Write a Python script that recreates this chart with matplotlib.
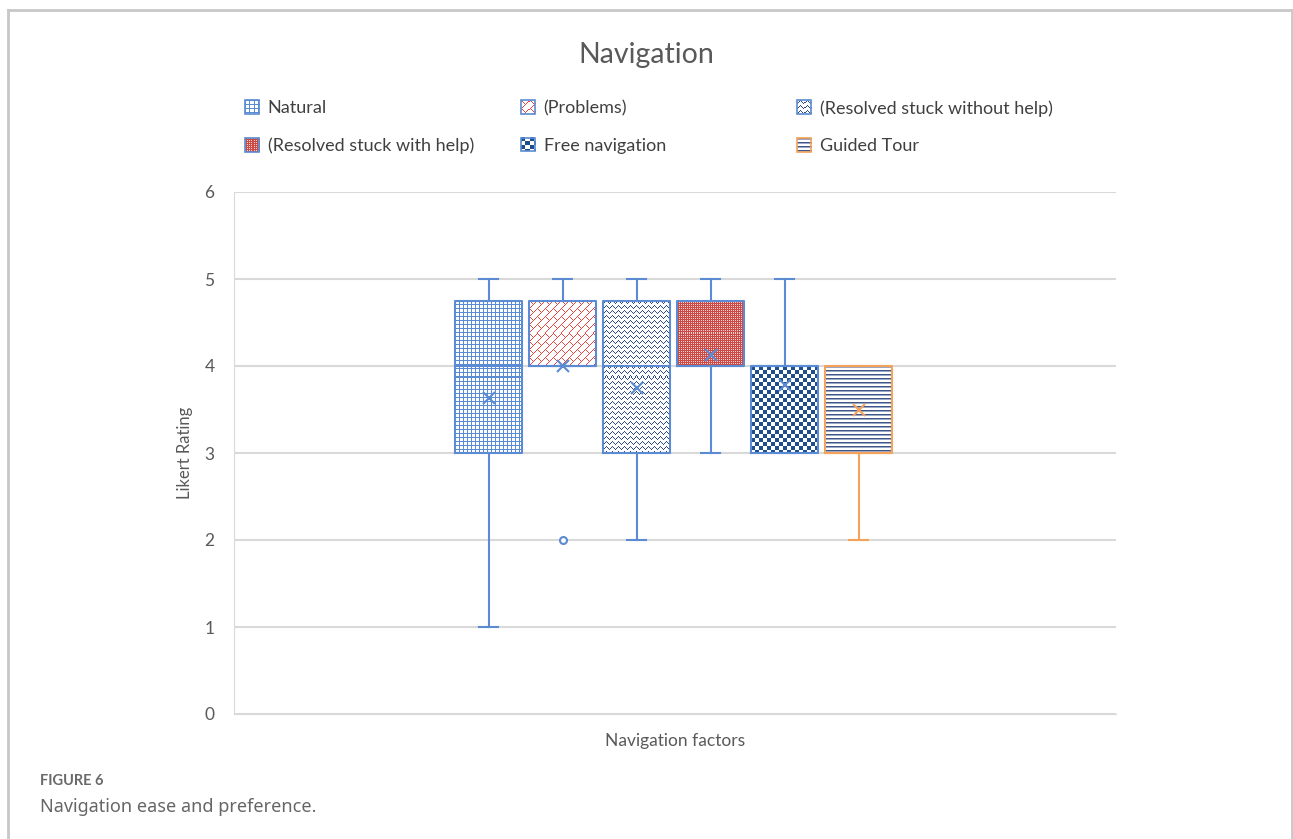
import numpy as np
import matplotlib
matplotlib.use('Agg')
from matplotlib import pyplot as plt
from matplotlib.lines import Line2D
from matplotlib.patches import Rectangle
from matplotlib.legend_handler import HandlerBase
from matplotlib.image import BboxImage
from matplotlib.transforms import Bbox, TransformedBbox

plt.rcParams['font.family'] = ['Lato', 'DejaVu Sans']

# data (Likert ratings)
categories = ["Natural", "(Problems)", "(Resolved stuck without help)",
              "(Resolved stuck with help)", "Free navigation", "Guided Tour"]
q1 = [3, 4, 3, 4, 3, 3]
medians = [4, 4, 4, 4, 4, 3]
q3 = [4.75, 4.75, 4.75, 4.75, 4, 4]
whislo = [1, 4, 2, 3, 3, 2]
whishi = [5, 5, 5, 5, 5, 4]
means = [3.63, 4.0, 3.75, 4.13, 3.78, 3.5]
fliers = [[], [2], [], [], [], []]

BLUE = '#5B8BD2'
ORANGE = '#F5A25A'
RED = '#E8453C'
NAVY = '#1F4E8C'
GRAY = '#595959'

kinds = ['grid', 'brick', 'zigzag', 'fine_check', 'check', 'hstripe']
edges = [BLUE, BLUE, BLUE, BLUE, BLUE, ORANGE]


def hex2rgb(c):
    c = c.lstrip('#')
    return np.array([int(c[i:i + 2], 16) / 255 for i in (0, 2, 4)])


def make_texture(kind, w, h):
    # pixel pattern that mimics the Excel fill patterns
    yy, xx = np.mgrid[0:h, 0:w]
    img = np.ones((h, w, 3))
    if kind == 'grid':
        img[(xx % 4 == 0) | (yy % 4 == 0)] = hex2rgb(BLUE)
    elif kind == 'brick':
        band = (xx + yy) // 8
        mask = ((xx + yy) % 8 == 0) | ((xx - yy - 8 * (band % 2)) % 16 == 0)
        img[mask] = hex2rgb(RED)
    elif kind == 'zigzag':
        tri = np.abs((xx % 6) - 3)
        img[(yy - tri) % 5 == 0] = hex2rgb('#2E4A86')
    elif kind == 'fine_check':
        img[:] = hex2rgb('#CC4A45')
        img[(xx % 2 == 0) & (yy % 2 == 0)] = hex2rgb('#F3D0CE')
    elif kind == 'check':
        img[(xx // 4 + yy // 4) % 2 == 0] = hex2rgb(NAVY)
    elif kind == 'hstripe':
        img[yy % 4 == 0] = hex2rgb('#3F5688')
        img[yy % 4 == 1] = hex2rgb('#9BA8C6')
    return img


class Swatch:
    def __init__(self, kind, edge):
        self.kind = kind
        self.edge = edge


class HandlerSwatch(HandlerBase):
    def create_artists(self, legend, orig_handle, xdescent, ydescent,
                       width, height, fontsize, trans):
        box = Bbox.from_bounds(-xdescent, -ydescent, width, height)
        img = BboxImage(TransformedBbox(box, trans), interpolation='nearest')
        img.set_data(make_texture(orig_handle.kind, 14, 14))
        rect = Rectangle((-xdescent, -ydescent), width, height, fill=False,
                         edgecolor=orig_handle.edge, lw=1.2, transform=trans)
        return [img, rect]


fig = plt.figure(figsize=(12.93, 8.39), dpi=100)
ax = fig.add_axes([234 / 1293, 125 / 839, 882 / 1293, 522 / 839])
ax.set_xlim(-3.44, 8.48)
ax.set_ylim(0, 6)

positions = np.arange(len(categories))
width = 0.9

for i in range(len(categories)):
    x0, x1 = positions[i] - width / 2, positions[i] + width / 2
    (px0, py0), (px1, py1) = ax.transData.transform([(x0, q1[i]), (x1, q3[i])])
    w = max(int(round(px1 - px0)), 1)
    h = max(int(round(py1 - py0)), 1)
    ax.imshow(make_texture(kinds[i], w, h), extent=(x0, x1, q1[i], q3[i]),
              interpolation='nearest', aspect='auto', zorder=2)
    c = edges[i]
    stats = [dict(q1=q1[i], med=medians[i], q3=q3[i], whislo=whislo[i],
                  whishi=whishi[i], mean=means[i], fliers=fliers[i])]
    ax.bxp(stats, positions=[positions[i]], widths=width, capwidths=0.26,
           showmeans=True, manage_ticks=False, zorder=3,
           boxprops=dict(color=c, lw=1.5),
           whiskerprops=dict(color=c, lw=1.5),
           capprops=dict(color=c, lw=1.5),
           medianprops=dict(color=c, lw=1.5),
           meanprops=dict(marker='x', markeredgecolor=c, markersize=9, mew=1.5),
           flierprops=dict(marker='o', markerfacecolor='white', markeredgecolor=c,
                           markersize=5, mew=1.5))

ax.set_xlim(-3.44, 8.48)
ax.set_ylim(0, 6)
ax.set_yticks(range(0, 7))
ax.set_xticks([])
ax.yaxis.grid(True, color='#D9D9D9', lw=1.5)
ax.set_axisbelow(True)
for s in ['top', 'right']:
    ax.spines[s].set_visible(False)
ax.spines['left'].set_color('#D9D9D9')
ax.spines['bottom'].set_color('#D9D9D9')
ax.tick_params(axis='y', length=0, pad=14, labelsize=12.5, labelcolor=GRAY)

ax.set_ylabel('Likert Rating', fontsize=12, color=GRAY)
ax.yaxis.set_label_coords(-0.047, 0.5)
ax.set_xlabel('Navigation factors', fontsize=12.5, color=GRAY)
ax.xaxis.set_label_coords(0.5, -0.036)

fig.text(646 / 1293, 1 - 55 / 839, 'Navigation', fontsize=20.5, color=GRAY,
         ha='center', va='center')

# legend in three columns, like the Excel layout
swatches = [Swatch(k, e) for k, e in zip(kinds, edges)]
for col, xpx in zip([[0, 3], [1, 4], [2, 5]], [245, 521, 797]):
    fig.legend(handles=[swatches[i] for i in col],
               labels=[categories[i] for i in col],
               handler_map={Swatch: HandlerSwatch()},
               loc='upper left', bbox_to_anchor=(xpx / 1293, 1 - 100 / 839),
               frameon=False, fontsize=13, borderpad=0, borderaxespad=0,
               handlelength=0.78, handleheight=0.78, handletextpad=0.48,
               labelspacing=1.2, labelcolor='#404040')

# outer frame and caption
fc = '#C8C8C8'
fig.add_artist(Line2D([8 / 1293, 8 / 1293], [0, 1 - 10 / 839], transform=fig.transFigure, color=fc, lw=2))
fig.add_artist(Line2D([8 / 1293, 1292 / 1293], [1 - 10 / 839, 1 - 10 / 839], transform=fig.transFigure, color=fc, lw=2))
fig.add_artist(Line2D([1292 / 1293, 1292 / 1293], [0, 1 - 10 / 839], transform=fig.transFigure, color=fc, lw=2))

fig.text(40 / 1293, 1 - 781 / 839, 'FIGURE 6', fontsize=10.5, weight='bold',
         color='#6A6A6A', va='center')
fig.text(40 / 1293, 1 - 807 / 839, 'Navigation ease and preference.', fontsize=13,
         color='#666666', va='center', family=['Noto Sans', 'DejaVu Sans'])

fig.savefig('out.png', dpi=100)
